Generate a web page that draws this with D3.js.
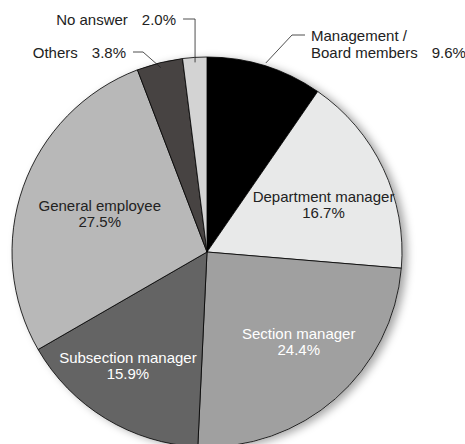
<!DOCTYPE html>
<html>
<head>
<meta charset="utf-8">
<script src="https://cdn.jsdelivr.net/npm/d3@7"></script>
<style>
  html, body { margin: 0; padding: 0; background: #fff; }
  svg { display: block; }
  text { font-family: "Liberation Sans", Arial, sans-serif; font-size: 15px; }
</style>
</head>
<body>
<svg id="chart" width="465" height="444"></svg>
<script>
// ---- data ----
const categories = ["Management / Board members", "Department manager", "Section manager",
                    "Subsection manager", "General employee", "Others", "No answer"];
const values = [9.6, 16.7, 24.4, 15.9, 27.5, 3.8, 2.0];
const valueLabels = ["9.6%", "16.7%", "24.4%", "15.9%", "27.5%", "3.8%", "2.0%"];
const colors = ["#000000", "#e8e9e9", "#a0a0a0", "#646464", "#b8b8b8", "#474342", "#d3d3d3"];

// ---- layout ----
const cx = 207, cy = 252, R = 195;
const svg = d3.select("#chart");

const defs = svg.append("defs");
const f = defs.append("filter").attr("id", "shadow")
  .attr("x", "-15%").attr("y", "-15%").attr("width", "135%").attr("height", "135%");
f.append("feDropShadow").attr("dx", 5).attr("dy", 2).attr("stdDeviation", 4)
  .attr("flood-color", "#000").attr("flood-opacity", 0.35);

const data = categories.map((c, i) => ({ name: c, value: values[i], label: valueLabels[i], color: colors[i], i }));
const pie = d3.pie().sort(null).value(d => d.value).startAngle(0).endAngle(2 * Math.PI);
const arcs = pie(data);
const arc = d3.arc().innerRadius(0).outerRadius(R);

const g = svg.append("g").attr("transform", `translate(${cx},${cy})`);
g.append("circle").attr("r", R).attr("fill", "#ccc").attr("filter", "url(#shadow)");
g.selectAll("path.slice").data(arcs).join("path")
  .attr("class", "slice")
  .attr("d", arc)
  .attr("fill", d => d.data.color)
  .attr("stroke", "#000")
  .attr("stroke-width", 0.8)
  .attr("stroke-linejoin", "round");

// inside labels (polar placement: radius, angle tweak in degrees)
const inside = {
  1: { name: "Department manager", r: 125.6, da: 3.4, fill: "#222" },
  2: { name: "Section manager", r: 128.7, da: -4.2, fill: "#fff" },
  3: { name: "Subsection manager", r: 138.4, da: 3.5, fill: "#fff" },
  4: { name: "General employee", r: 113.8, da: 0, fill: "#222" }
};
arcs.forEach(a => {
  const cfg = inside[a.data.i];
  if (!cfg) return;
  const mid = (a.startAngle + a.endAngle) / 2 + cfg.da * Math.PI / 180;
  const x = Math.sin(mid) * cfg.r, y = -Math.cos(mid) * cfg.r;
  const t = g.append("text").attr("text-anchor", "middle").attr("fill", cfg.fill)
    .attr("x", x).attr("y", y - 3);
  t.append("tspan").attr("x", x).attr("dy", 0).text(cfg.name);
  t.append("tspan").attr("x", x).attr("dy", 16).text(a.data.label);
});

// outside labels with leader lines
function polar(angle, r) { return [Math.sin(angle) * r, -Math.cos(angle) * r]; }
const outside = {
  0: { rp: R + 3, elbow: [85, -217], end: [98, -217], side: "right",
       lines: ["Management /", "Board members"] },
  5: { rp: R - 5, elbow: [-64, -200], end: [-74, -200], side: "left",
       lines: ["Others"] },
  6: { rp: R - 5, elbowY: -233, end: [-27, -233], side: "left",
       lines: ["No answer"] }
};
arcs.forEach(a => {
  const cfg = outside[a.data.i];
  if (!cfg) return;
  const mid = (a.startAngle + a.endAngle) / 2;
  const p = polar(mid, cfg.rp);
  const elbow = cfg.elbow ? cfg.elbow : [p[0], cfg.elbowY];
  const end = cfg.elbow ? cfg.end : [p[0] - 12, cfg.elbowY];
  g.append("polyline")
    .attr("points", [p, elbow, end].map(q => q.join(",")).join(" "))
    .attr("fill", "none").attr("stroke", "#222").attr("stroke-width", 0.8);
  const right = cfg.side === "right";
  const tx = right ? end[0] + 6 : end[0] - 7;
  const t = g.append("text").attr("fill", "#222")
    .attr("text-anchor", right ? "start" : "end")
    .attr("x", tx).attr("y", end[1] + 6);
  cfg.lines.forEach((ln, k) => {
    const last = k === cfg.lines.length - 1;
    t.append("tspan").attr("x", tx).attr("dy", k === 0 ? 0 : 17).text(ln);
    if (last) t.append("tspan").attr("dx", 14).text(a.data.label);
  });
});
</script>
</body>
</html>
